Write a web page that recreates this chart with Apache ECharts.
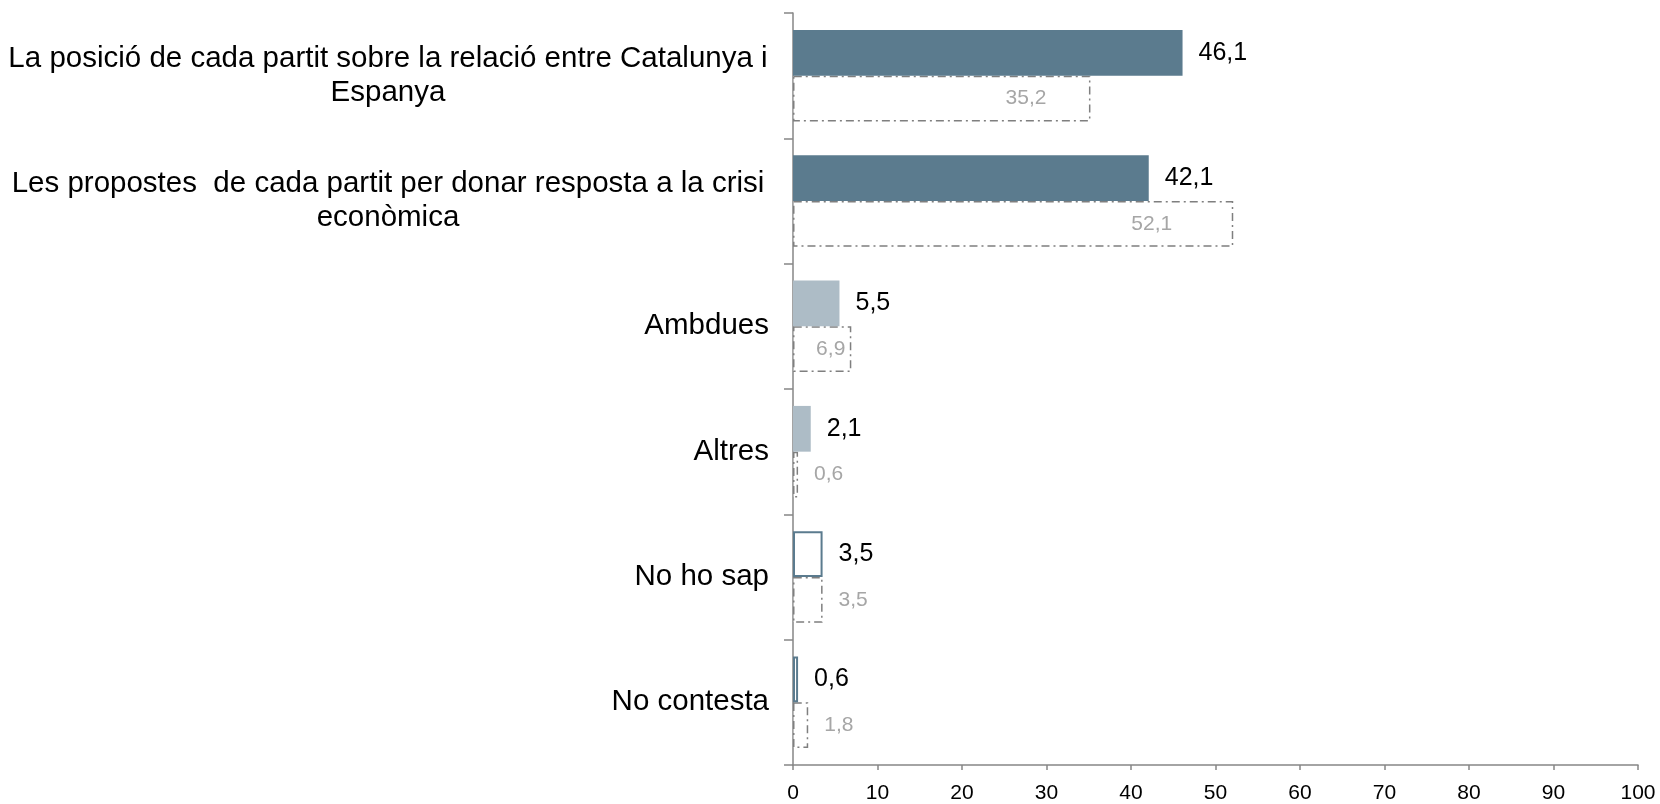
<!DOCTYPE html>
<html>
<head>
<meta charset="utf-8">
<script src="https://cdn.jsdelivr.net/npm/echarts@6/dist/echarts.min.js"></script>
<style>
  html, body { margin: 0; padding: 0; background: #fff; }
  #chart { width: 1660px; height: 804px; }
</style>
</head>
<body>
<div id="chart"></div>
<script>
// dades
const categories = [
  "La posició de cada partit sobre la relació entre Catalunya i\nEspanya",
  "Les propostes  de cada partit per donar resposta a la crisi\neconòmica",
  "Ambdues",
  "Altres",
  "No ho sap",
  "No contesta"
];
const valuesNow = [46.1, 42.1, 5.5, 2.1, 3.5, 0.6];
const valuesPrev = [35.2, 52.1, 6.9, 0.6, 3.5, 1.8];
const xTicks = [0, 10, 20, 30, 40, 50, 60, 70, 80, 90, 100];

// estils
const DARK = "#5b7b8e";
const LIGHT = "#adbcc6";
const GREY = "#7f7f7f";
const dashDot = [8, 4, 2, 4];

function fmt(v) {
  return String(v).replace(".", ",");
}

// estil de cada barra de la primera serie
const nowStyles = [
  { color: DARK },
  { color: DARK },
  { color: LIGHT },
  { color: LIGHT },
  { color: "#fff", borderColor: DARK, borderWidth: 2 },
  { color: "#fff", borderColor: DARK, borderWidth: 2 }
];
// posicio de l'etiqueta de la segona serie
const prevLabels = [
  { position: "insideRight", distance: 44 },
  { position: "insideRight", distance: 61 },
  { position: "insideRight", distance: 6 },
  { position: "right", distance: 16 },
  { position: "right", distance: 16 },
  { position: "right", distance: 16 }
];

const chart = echarts.init(document.getElementById("chart"));

const option = {
  animation: false,
  textStyle: { fontFamily: "Liberation Sans, Arial, sans-serif" },
  grid: { left: 793, right: 22, top: 13, bottom: 36, containLabel: false },
  xAxis: {
    type: "value",
    min: xTicks[0],
    max: xTicks[xTicks.length - 1],
    interval: xTicks[1] - xTicks[0],
    axisLine: { show: true, lineStyle: { color: "#868686", width: 1.5 } },
    axisTick: { show: true, length: 5, lineStyle: { color: "#868686", width: 1.5 } },
    splitLine: { show: false },
    axisLabel: { color: "#000", fontSize: 21, margin: 18 }
  },
  yAxis: {
    type: "category",
    inverse: true,
    data: categories,
    axisLine: { show: true, lineStyle: { color: "#868686", width: 1.5 } },
    axisTick: { show: true, length: 9, lineStyle: { color: "#868686", width: 1.5 } },
    axisLabel: {
      color: "#000",
      fontSize: 29.5,
      lineHeight: 34,
      margin: 24,
      formatter: function (name) {
        if (name.indexOf("\n") < 0) return name;
        return name.split("\n").map(function (l) { return "{c|" + l + "}"; }).join("\n");
      },
      rich: {
        c: { width: 762, align: "center", fontSize: 29.5, lineHeight: 34, color: "#000" }
      }
    }
  },
  series: [
    {
      type: "bar",
      barGap: "0%",
      barCategoryGap: "27%",
      data: valuesNow.map(function (v, i) {
        return { value: v, itemStyle: nowStyles[i] };
      }),
      label: {
        show: true,
        position: "right",
        distance: 16,
        color: "#000",
        fontSize: 25,
        formatter: function (p) { return fmt(p.value); }
      },
      z: 3
    },
    {
      type: "bar",
      barGap: "0%",
      barCategoryGap: "27%",
      data: valuesPrev.map(function (v, i) {
        return { value: v, label: prevLabels[i] };
      }),
      itemStyle: {
        color: "#fff",
        borderColor: GREY,
        borderWidth: 1.5,
        borderType: dashDot
      },
      label: {
        show: true,
        color: "#a6a6a6",
        fontSize: 21,
        formatter: function (p) { return fmt(p.value); }
      },
      z: 2
    }
  ]
};

chart.setOption(option);
</script>
</body>
</html>
